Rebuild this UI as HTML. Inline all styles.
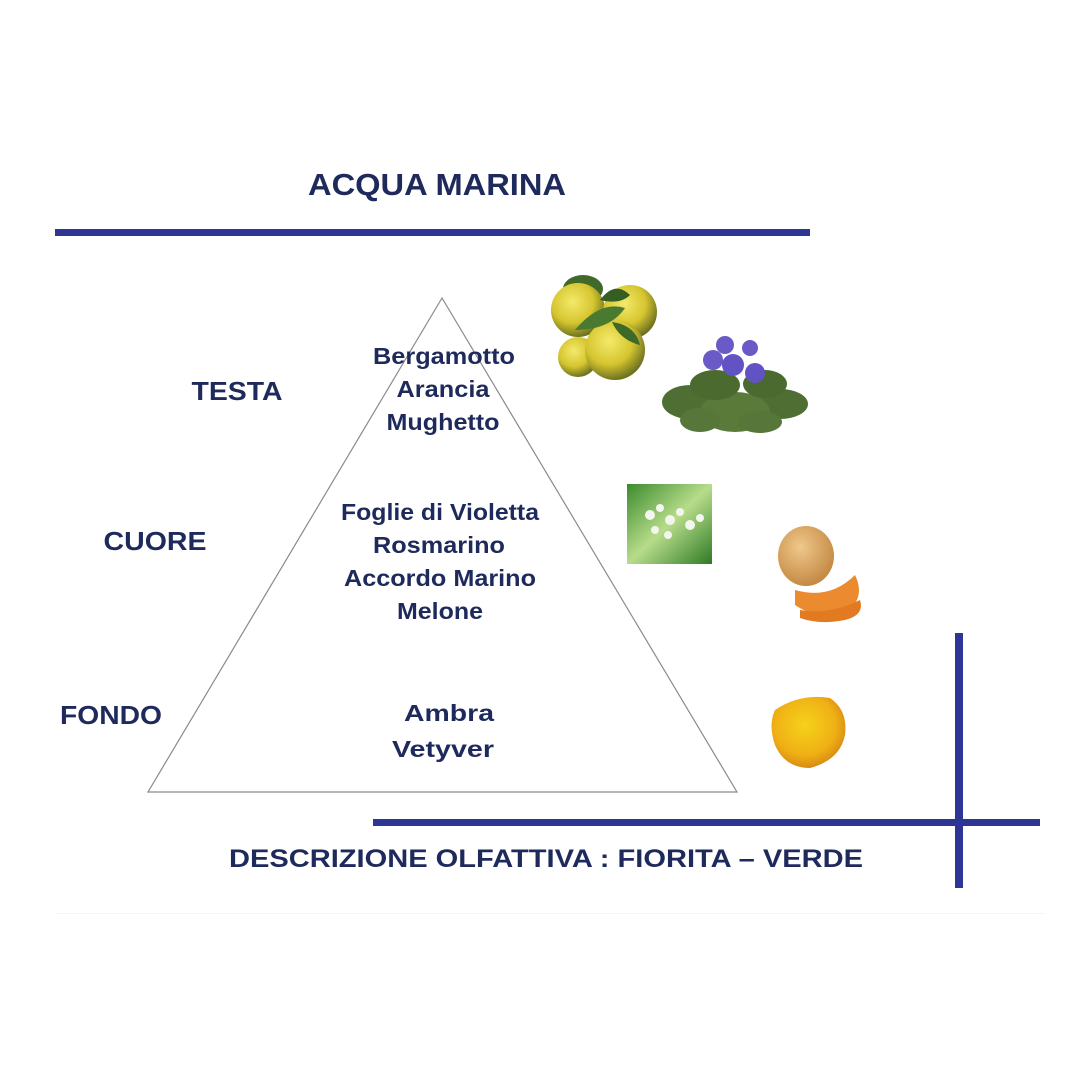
<!DOCTYPE html>
<html><head><meta charset="utf-8"><style>
html,body{margin:0;padding:0;background:#fff;}
svg{display:block;}
text{font-family:"Liberation Sans",sans-serif;font-weight:bold;fill:#1f2a5c;}
</style></head><body>
<svg width="1080" height="1080" viewBox="0 0 1080 1080" xmlns="http://www.w3.org/2000/svg">
<defs>
<radialGradient id="lem" cx="40%" cy="35%" r="65%"><stop offset="0" stop-color="#f4ea6a"/><stop offset="0.6" stop-color="#d6c530"/><stop offset="1" stop-color="#6f7420"/></radialGradient>
<radialGradient id="amb" cx="45%" cy="40%" r="60%"><stop offset="0" stop-color="#f6d21a"/><stop offset="0.7" stop-color="#efb015"/><stop offset="1" stop-color="#d98a12"/></radialGradient>
<linearGradient id="lil" x1="0" y1="0" x2="1" y2="1"><stop offset="0" stop-color="#3c8a2e"/><stop offset="0.5" stop-color="#b7dc8a"/><stop offset="1" stop-color="#2f7a25"/></linearGradient>
<radialGradient id="mel" cx="40%" cy="35%" r="65%"><stop offset="0" stop-color="#efc88a"/><stop offset="1" stop-color="#c58a45"/></radialGradient>
</defs>
<text x="437" y="195" font-size="31" text-anchor="middle" textLength="258" lengthAdjust="spacingAndGlyphs">ACQUA MARINA</text>
<rect x="55" y="229" width="755" height="7" fill="#2f3595"/>
<polygon points="442,298 148,792 737,792" fill="none" stroke="#8a8a8a" stroke-width="1.2"/>
<g font-size="26">
<text x="237" y="400" text-anchor="middle" textLength="91" lengthAdjust="spacingAndGlyphs">TESTA</text>
<text x="155" y="550" text-anchor="middle" textLength="103" lengthAdjust="spacingAndGlyphs">CUORE</text>
<text x="111" y="724" text-anchor="middle" textLength="102" lengthAdjust="spacingAndGlyphs">FONDO</text>
</g>
<g font-size="23" text-anchor="middle">
<text x="444" y="364" textLength="142" lengthAdjust="spacingAndGlyphs">Bergamotto</text>
<text x="443" y="397" textLength="93" lengthAdjust="spacingAndGlyphs">Arancia</text>
<text x="443" y="430" textLength="113" lengthAdjust="spacingAndGlyphs">Mughetto</text>
<text x="440" y="520" textLength="198" lengthAdjust="spacingAndGlyphs">Foglie di Violetta</text>
<text x="439" y="553" textLength="132" lengthAdjust="spacingAndGlyphs">Rosmarino</text>
<text x="440" y="586" textLength="192" lengthAdjust="spacingAndGlyphs">Accordo Marino</text>
<text x="440" y="619" textLength="86" lengthAdjust="spacingAndGlyphs">Melone</text>
<text x="449" y="721" textLength="90" lengthAdjust="spacingAndGlyphs">Ambra</text>
<text x="443" y="757" textLength="102" lengthAdjust="spacingAndGlyphs">Vetyver</text>
</g>
<rect x="373" y="819" width="667" height="7" fill="#2f3595"/>
<rect x="955" y="633" width="8" height="255" fill="#2f3595"/>
<text x="546" y="867" font-size="25" text-anchor="middle" textLength="634" lengthAdjust="spacingAndGlyphs">DESCRIZIONE OLFATTIVA : FIORITA  – VERDE</text>
<rect x="55" y="913" width="990" height="1" fill="#f4f4f4"/>
<g>
<ellipse cx="583" cy="289" rx="20" ry="14" fill="#3f6a2a"/>
<circle cx="578" cy="310" r="27" fill="url(#lem)"/>
<circle cx="630" cy="312" r="27" fill="url(#lem)"/>
<circle cx="578" cy="357" r="20" fill="url(#lem)"/>
<circle cx="615" cy="350" r="30" fill="url(#lem)"/>
<path d="M575,330 Q600,300 625,308 Q610,330 575,330Z" fill="#4a7a30"/>
<path d="M600,300 Q615,280 630,295 Q620,305 600,300Z" fill="#355e24"/>
<path d="M612,322 Q635,325 640,345 Q620,340 612,322Z" fill="#3d6a28"/>
</g>
<g>
<ellipse cx="690" cy="402" rx="28" ry="17" fill="#4f6e33"/>
<ellipse cx="780" cy="404" rx="28" ry="15" fill="#4f6e33"/>
<ellipse cx="735" cy="412" rx="35" ry="20" fill="#5a7a3a"/>
<ellipse cx="715" cy="385" rx="25" ry="15" fill="#4a6a30"/>
<ellipse cx="765" cy="384" rx="22" ry="14" fill="#4a6a30"/>
<ellipse cx="700" cy="420" rx="20" ry="12" fill="#56763a"/>
<ellipse cx="760" cy="422" rx="22" ry="11" fill="#56763a"/>
<circle cx="713" cy="360" r="10" fill="#6a5ac8"/>
<circle cx="733" cy="365" r="11" fill="#6253c4"/>
<circle cx="725" cy="345" r="9" fill="#6a5ac8"/>
<circle cx="755" cy="373" r="10" fill="#6253c4"/>
<circle cx="750" cy="348" r="8" fill="#6a5ac8"/>
</g>
<rect x="627" y="484" width="85" height="80" fill="url(#lil)"/>
<g fill="#f2f6ee"><circle cx="650" cy="515" r="5"/><circle cx="660" cy="508" r="4"/><circle cx="670" cy="520" r="5"/><circle cx="680" cy="512" r="4"/><circle cx="690" cy="525" r="5"/><circle cx="655" cy="530" r="4"/><circle cx="668" cy="535" r="4"/><circle cx="700" cy="518" r="4"/></g>
<ellipse cx="806" cy="556" rx="28" ry="30" fill="url(#mel)"/>
<path d="M795,590 Q830,600 855,575 Q865,595 850,610 Q820,622 795,605Z" fill="#ec8a30"/>
<path d="M800,610 Q830,615 860,600 Q865,615 845,620 Q820,625 800,618Z" fill="#e27a22"/>
<path d="M775,710 Q800,693 830,698 Q848,710 845,735 Q840,760 810,768 Q785,768 775,745 Q768,725 775,710Z" fill="url(#amb)"/>
</svg>
</body></html>
